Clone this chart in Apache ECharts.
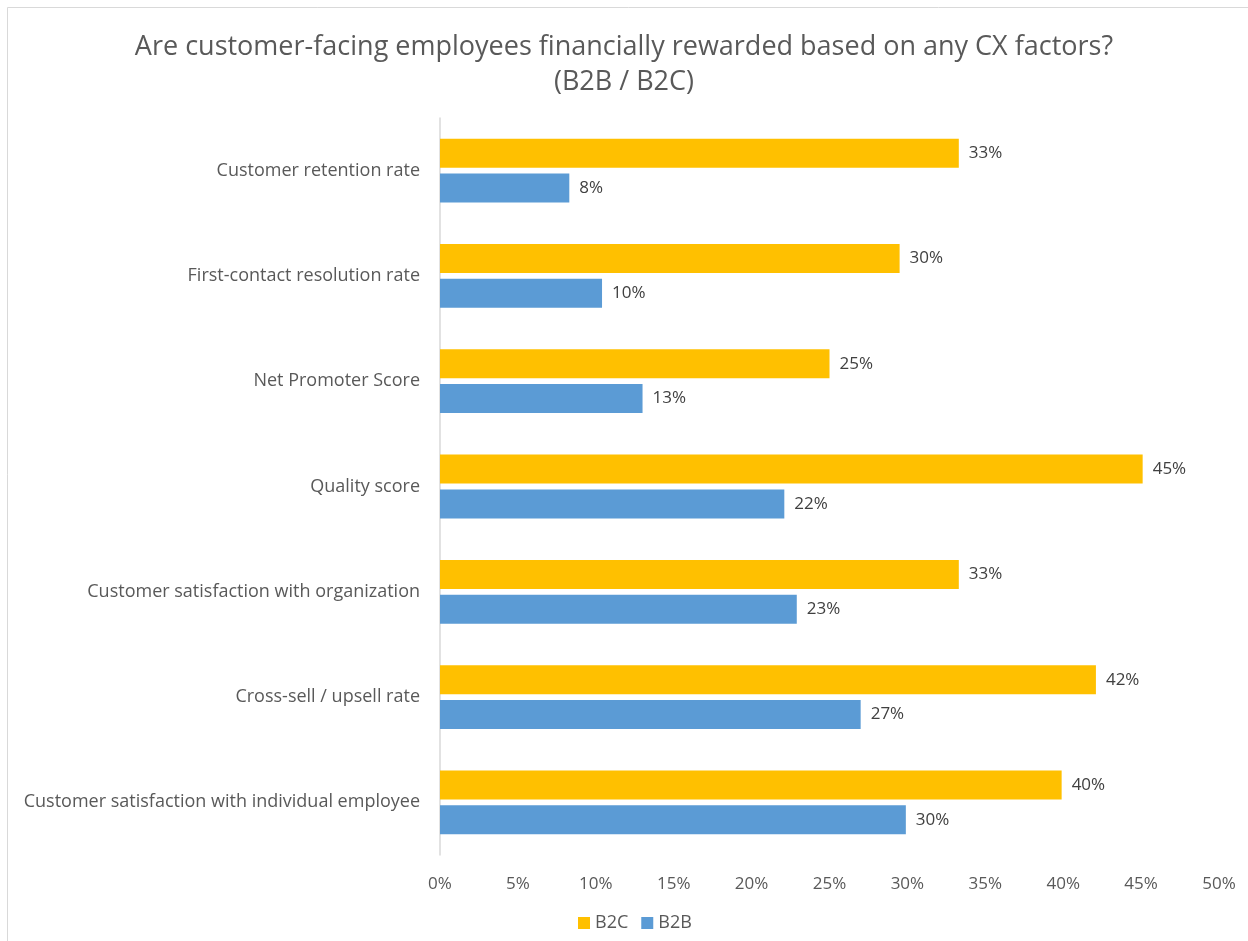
<!DOCTYPE html>
<html>
<head>
<meta charset="utf-8">
<script src="https://cdn.jsdelivr.net/npm/echarts@6/dist/echarts.min.js"></script>
<style>
  html, body { margin: 0; padding: 0; background: #fff; }
  #chart { width: 1248px; height: 941px; }
</style>
</head>
<body>
<div id="chart"></div>
<script>
// Factors, listed top to bottom
const categories = [
  'Customer retention rate',
  'First-contact resolution rate',
  'Net Promoter Score',
  'Quality score',
  'Customer satisfaction with organization',
  'Cross-sell / upsell rate',
  'Customer satisfaction with individual employee'
];
// Share of respondents (%)
const b2c = [33.3, 29.5, 25, 45.1, 33.3, 42.1, 39.9];
const b2b = [8.3, 10.4, 13, 22.1, 22.9, 27, 29.9];
const seriesNames = ['B2C', 'B2B'];
const xTicks = [0, 5, 10, 15, 20, 25, 30, 35, 40, 45, 50];

const FONT = '"Open Sans", Lato, sans-serif';
const TXT = '#595959';

const chart = echarts.init(document.getElementById('chart'), null, { renderer: 'canvas' });

const labelStyle = {
  show: true,
  position: 'right',
  distance: 10,
  color: '#404040',
  fontFamily: FONT,
  fontSize: 17,
  formatter: p => Math.round(p.value) + '%'
};

chart.setOption({
  backgroundColor: '#fff',
  animation: false,
  graphic: [{
    type: 'rect',
    shape: { x: 7.5, y: 7.5, width: 1260, height: 960 },
    style: { fill: 'none', stroke: '#d9d9d9', lineWidth: 1 },
    silent: true
  }],
  title: {
    text: 'Are customer-facing employees financially rewarded based on any CX factors?\n(B2B / B2C)',
    left: 'center',
    top: 25,
    textStyle: {
      fontFamily: FONT,
      fontSize: 27,
      fontWeight: 'normal',
      color: TXT,
      lineHeight: 35
    }
  },
  legend: {
    data: seriesNames,
    bottom: 4,
    left: 573,
    itemWidth: 12,
    itemHeight: 12,
    itemGap: 13,
    icon: 'rect',
    textStyle: { fontFamily: FONT, fontSize: 18, color: TXT }
  },
  grid: {
    left: 440,
    right: 29,
    top: 118,
    bottom: 86,
    containLabel: false
  },
  xAxis: {
    type: 'value',
    min: 0,
    max: 50,
    interval: 5,
    axisLine: { show: false },
    axisTick: { show: false },
    splitLine: { show: false },
    axisLabel: {
      margin: 21,
      fontFamily: FONT,
      fontSize: 17,
      color: TXT,
      formatter: v => (xTicks.includes(v) ? v + '%' : '')
    }
  },
  yAxis: {
    type: 'category',
    data: categories,
    inverse: true,
    axisLine: { show: true, lineStyle: { color: '#d9d9d9', width: 1.5 } },
    axisTick: { show: false },
    axisLabel: {
      margin: 20,
      fontFamily: FONT,
      fontSize: 18,
      color: TXT
    }
  },
  series: [
    {
      name: seriesNames[0],
      type: 'bar',
      data: b2c,
      barWidth: 29,
      barGap: '20%',
      itemStyle: { color: '#FFC000' },
      label: labelStyle
    },
    {
      name: seriesNames[1],
      type: 'bar',
      data: b2b,
      barWidth: 29,
      barGap: '20%',
      itemStyle: { color: '#5B9BD5' },
      label: labelStyle
    }
  ]
});
</script>
</body>
</html>
